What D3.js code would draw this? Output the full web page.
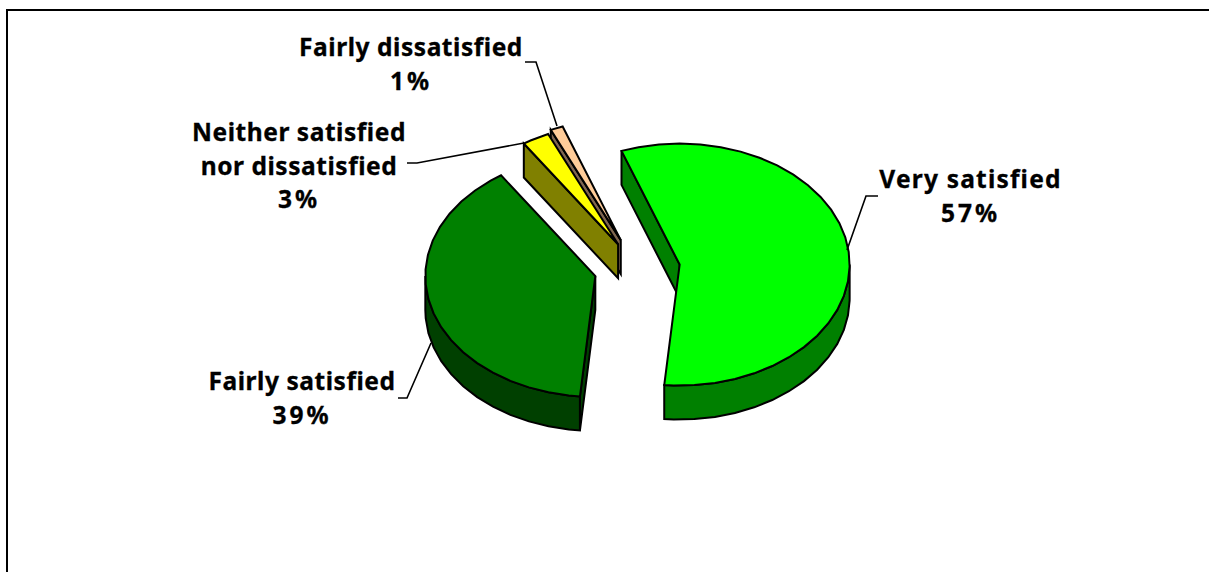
<!DOCTYPE html>
<html><head><meta charset="utf-8">
<style>html,body{margin:0;padding:0;background:#fff;overflow:hidden}
text{font-family:"Noto Sans",sans-serif;font-weight:700;font-size:24.5px;letter-spacing:.55px;fill:#000;stroke:#000;stroke-width:.3px}</style>
<script src="https://cdnjs.cloudflare.com/ajax/libs/d3/7.8.5/d3.min.js"></script>
</head><body>
<svg id="c" width="1209" height="572"></svg>
<script>
const categories=["Very satisfied","Fairly satisfied","Neither satisfied nor dissatisfied","Fairly dissatisfied"];
const values=[57,39.2,2.6,1.2];
const explosion=[43,43,39,43];
const topColors=["#00ff00","#008000","#ffff00","#ffcc99"];
const sideColors=["#008000","#004000","#808000","#806650"];
const labelLines=[["Very satisfied","57%"],["Fairly satisfied","39%"],["Neither satisfied","nor dissatisfied","3%"],["Fairly dissatisfied","1%"]];
const labelX=[970.5,302,299,411];
const labelY=[188,390,141,56];
const leaders=[[[878,196],[866,196],[847,250]],[[398,398],[407,398],[431,343]],[[407,163],[417,163],[524,143]],[[525,62],[536,62],[557,126]]];
const cx=637,cy=268.5,rx=170,ry=121,depth=34,startDeg=-20,stepDeg=7;
const rad=d=>d*Math.PI/180;
const px=d3.scaleLinear().domain([-1,1]).range([-rx,rx]);
const py=d3.scaleLinear().domain([-1,1]).range([-ry,ry]);
const svg=d3.select("#c");
svg.append("path").attr("d","M7,572V10H1209").attr("fill","none").attr("stroke","#000").attr("stroke-width",2);
const arcs=d3.pie().sort(null).startAngle(rad(startDeg)).endAngle(rad(startDeg+360))(values);
const line=d3.line();
const apex=arcs.map((d,i)=>{const m=(d.startAngle+d.endAngle)/2;
  return [cx+explosion[i]*Math.sin(m),cy-explosion[i]*ry/rx*Math.cos(m)];});
const pt=(i,t,dz=0)=>[apex[i][0]+px(Math.sin(t)),apex[i][1]-py(Math.cos(t))+dz];
function arcAngles(a,b){const out=[a];const s=rad(stepDeg);for(let t=Math.ceil(a/s)*s;t<b;t+=s)if(t>a)out.push(t);out.push(b);return out;}
[3,2,1,0].forEach(i=>{
  const a=arcs[i].startAngle,b=arcs[i].endAngle,ap=apex[i];
  const g=svg.append("g").attr("stroke","#000").attr("stroke-width",2).attr("stroke-linejoin","miter");
  // radial walls that face the viewer
  [[a,Math.sin(a)<0],[b,Math.sin(b)>0]].forEach(([t,show])=>{
    if(!show)return;const p=pt(i,t);
    g.append("path").attr("d",line([ap,p,[p[0],p[1]+depth],[ap[0],ap[1]+depth]])+"Z").attr("fill",sideColors[i]);
  });
  // outer rim: the part of the arc that faces the viewer
  const lo=Math.max(a,rad(90)),hi=Math.min(b,rad(270));
  if(hi>lo){const ts=arcAngles(lo,hi);
    g.append("path").attr("d",line(ts.map(t=>pt(i,t)).concat(ts.slice().reverse().map(t=>pt(i,t,depth))))+"Z").attr("fill",sideColors[i]);}
  g.append("path").attr("d",line([ap].concat(arcAngles(a,b).map(t=>pt(i,t))))+"Z").attr("fill",topColors[i]);
});
leaders.forEach(l=>svg.append("path").attr("d",line(l)).attr("fill","none").attr("stroke","#000").attr("stroke-width",1.6));
labelLines.forEach((ls,i)=>{
  const t=svg.append("text").attr("text-anchor","middle");
  ls.forEach((s,j)=>{
    const isPct=s.endsWith("%");
    t.append("tspan").attr("x",labelX[i]).attr("y",labelY[i]+j*33.5)
      .style("letter-spacing",isPct?"3px":(s==="Very satisfied"?"1.2px":null)).text(s);
  });
});
</script></body></html>
